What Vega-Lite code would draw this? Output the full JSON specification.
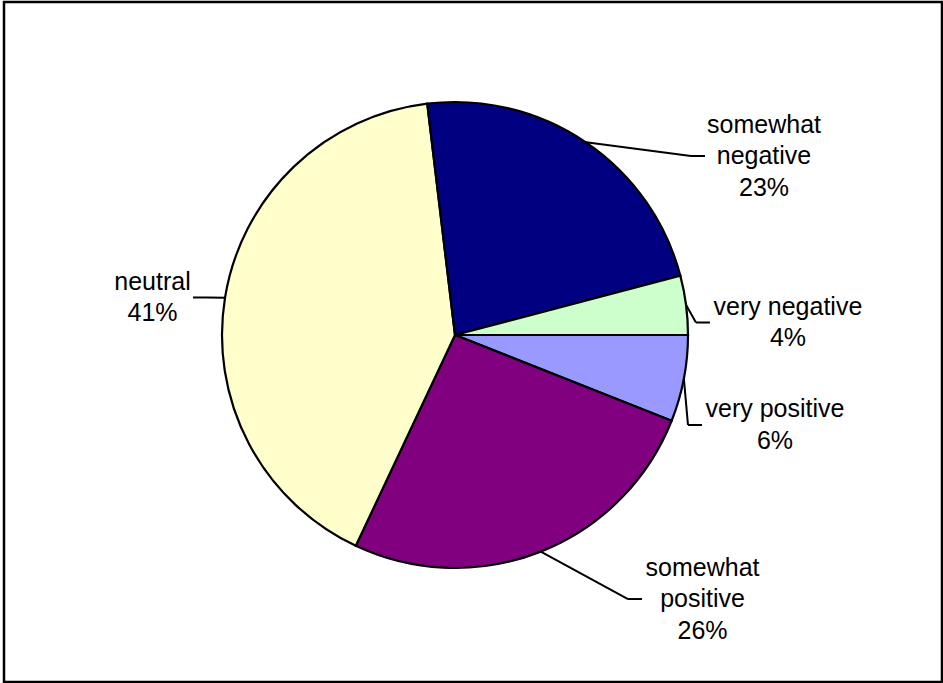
{
  "$schema": "https://vega.github.io/schema/vega-lite/v6.json",
  "width": 938,
  "height": 680,
  "autosize": {"type": "none"},
  "padding": {"left": 4, "top": 2, "right": 1, "bottom": 1},
  "background": "white",
  "config": {"view": {"stroke": "#000", "strokeWidth": 2.5}},
  "data": {"values": [
    {"category": "very positive", "value": 6.0, "order": 1},
    {"category": "somewhat positive", "value": 26.0, "order": 2},
    {"category": "neutral", "value": 41.1, "order": 3},
    {"category": "somewhat negative", "value": 22.8, "order": 4},
    {"category": "very negative", "value": 4.1, "order": 5}
  ]},
  "transform": [
    {"window": [{"op": "sum", "field": "value", "as": "cum"}], "sort": [{"field": "order"}], "frame": [null, 0]},
    {"joinaggregate": [{"op": "sum", "field": "value", "as": "total"}]},
    {"calculate": "PI/2 + 2*PI*(datum.cum - datum.value/2)/datum.total", "as": "mid"},
    {"calculate": "{'very positive': [4.91, 332.4, 73], 'somewhat positive': [-21.55, 361.9, 60.5], 'neutral': [-2.11, 304.8, 40.5], 'somewhat negative': [25.72, 357.1, 59], 'very negative': [5.23, 333.2, 78]}[datum.category]", "as": "lp"},
    {"calculate": "datum.lp[1]*sin(datum.mid + datum.lp[0]*PI/180)", "as": "lx"},
    {"calculate": "datum.lp[1]*cos(datum.mid + datum.lp[0]*PI/180)", "as": "ly"},
    {"calculate": "datum.lx > 0 ? 1 : -1", "as": "side"},
    {"calculate": "datum.lx - datum.side*datum.lp[2]", "as": "endx"},
    {"calculate": "datum.endx - datum.side*14", "as": "elbx"},
    {"calculate": "233*sin(datum.mid)", "as": "ex"},
    {"calculate": "233*cos(datum.mid)", "as": "ey"},
    {"calculate": "replace(datum.category, 'somewhat ', 'somewhat\\n') + '\\n' + format(datum.value/100, '.0%')", "as": "label"},
    {"calculate": "datum.ly + (length(split(datum.label, '\\n')) - 1)*15.75", "as": "ty"}
  ],
  "layer": [
    {
      "mark": {"type": "arc", "outerRadius": 233, "stroke": "#000", "strokeWidth": 2.2},
      "encoding": {
        "theta": {"field": "value", "type": "quantitative", "stack": true, "scale": {"range": [1.5708, 7.854]}},
        "order": {"field": "order", "type": "quantitative"},
        "color": {"field": "category", "type": "nominal", "legend": null,
          "scale": {"domain": ["very positive", "somewhat positive", "neutral", "somewhat negative", "very negative"],
                    "range": ["#9999FF", "#800080", "#FFFFCC", "#000080", "#CCFFCC"]}},
        "x": {"datum": 0, "type": "quantitative", "scale": {"domain": [-451, 487], "nice": false, "zero": false}, "axis": null},
        "y": {"datum": 0, "type": "quantitative", "scale": {"domain": [-347, 333], "nice": false, "zero": false}, "axis": null}
      }
    },
    {
      "mark": {"type": "rule", "stroke": "#000", "strokeWidth": 2},
      "encoding": {
        "x": {"field": "ex", "type": "quantitative"},
        "y": {"field": "ey", "type": "quantitative"},
        "x2": {"field": "elbx"},
        "y2": {"field": "ly"}
      }
    },
    {
      "mark": {"type": "rule", "stroke": "#000", "strokeWidth": 2},
      "encoding": {
        "x": {"field": "elbx", "type": "quantitative"},
        "y": {"field": "ly", "type": "quantitative"},
        "x2": {"field": "endx"},
        "y2": {"field": "ly"}
      }
    },
    {
      "mark": {"type": "text", "font": "Liberation Sans", "fontSize": 25, "lineHeight": 31.5, "align": "center", "baseline": "middle", "lineBreak": "\n", "color": "#000"},
      "encoding": {
        "x": {"field": "lx", "type": "quantitative"},
        "y": {"field": "ty", "type": "quantitative"},
        "text": {"field": "label"}
      }
    }
  ]
}
